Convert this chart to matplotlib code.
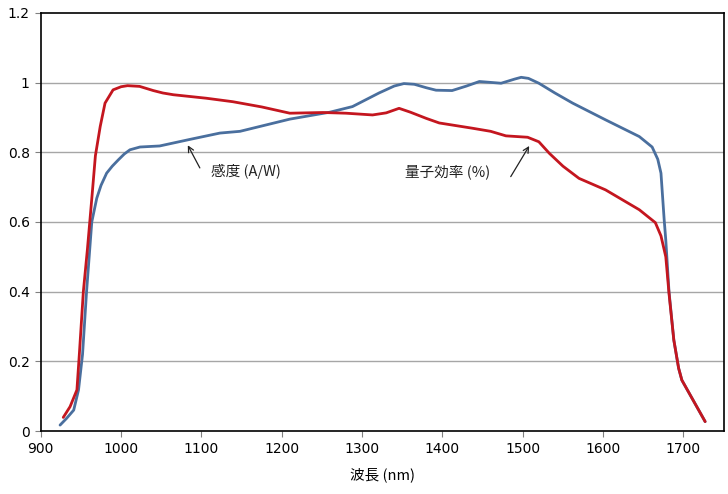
import matplotlib
matplotlib.use("Agg")
import matplotlib.pyplot as plt
from matplotlib.ticker import FixedLocator, FuncFormatter

# Responsivity (A/W) of the photodiode versus wavelength
sens_nm = [924, 932, 941, 947, 952, 957, 963.5, 969.7, 975, 982, 989, 996.5, 1004,
           1011, 1023.5, 1048, 1086, 1123, 1148, 1210, 1260, 1288, 1321, 1340, 1352,
           1365, 1380, 1392, 1412, 1430, 1446, 1473, 1490, 1498, 1507, 1520, 1540,
           1562, 1603, 1645, 1661, 1668, 1672, 1676, 1678, 1682, 1688, 1694, 1698,
           1727]
sens_val = [0.017, 0.036, 0.06, 0.118, 0.22, 0.40, 0.60, 0.668, 0.705, 0.74, 0.76,
            0.778, 0.795, 0.807, 0.815, 0.818, 0.837, 0.855, 0.86, 0.895, 0.915,
            0.931, 0.97, 0.99, 0.997, 0.995, 0.985, 0.978, 0.977, 0.99, 1.003, 0.998,
            1.01, 1.015, 1.012, 0.998, 0.97, 0.941, 0.893, 0.845, 0.815, 0.78, 0.74,
            0.606, 0.548, 0.40, 0.261, 0.18, 0.146, 0.027]

# Quantum efficiency (x100 %) versus wavelength
qe_nm = [928, 936.5, 945, 948, 953, 958, 961, 964, 968, 974, 980, 990, 1000, 1008,
         1023, 1040, 1052, 1065, 1106, 1139, 1175, 1210, 1251, 1280, 1313, 1330,
         1346, 1360, 1380, 1396, 1437, 1460, 1479, 1506, 1520, 1533, 1550, 1570,
         1603, 1645, 1665, 1672, 1678, 1682, 1688, 1694, 1698, 1727]
qe_val = [0.039, 0.07, 0.118, 0.22, 0.40, 0.52, 0.60, 0.68, 0.79, 0.874, 0.941,
          0.979, 0.988, 0.991, 0.989, 0.977, 0.970, 0.965, 0.955, 0.945, 0.93,
          0.912, 0.914, 0.912, 0.907, 0.913, 0.926, 0.915, 0.897, 0.884, 0.869,
          0.86, 0.847, 0.843, 0.83, 0.797, 0.76, 0.725, 0.692, 0.635, 0.598, 0.56,
          0.50, 0.395, 0.261, 0.18, 0.146, 0.027]

x_ticks = [900, 1000, 1100, 1200, 1300, 1400, 1500, 1600, 1700]
y_ticks = [0, 0.2, 0.4, 0.6, 0.8, 1.0, 1.2]

cjk = ["Noto Sans CJK JP", "DejaVu Sans"]

fig = plt.figure(figsize=(7.28, 4.94), dpi=100)
ax = fig.add_axes([0.056, 0.1275, 0.938, 0.8465])

ax.set_xlim(900, 1750)
ax.set_ylim(0, 1.2)

for y in y_ticks[1:-1]:
    ax.axhline(y, color="#a6a6a6", lw=1.0, zorder=1)

ax.plot(sens_nm, sens_val, color="#4a6f9e", lw=2.0, zorder=3,
        solid_joinstyle="round", solid_capstyle="round")
ax.plot(qe_nm, qe_val, color="#c4161f", lw=2.0, zorder=4,
        solid_joinstyle="round", solid_capstyle="round")

ax.xaxis.set_major_locator(FixedLocator(x_ticks))
ax.yaxis.set_major_locator(FixedLocator(y_ticks))
ax.yaxis.set_major_formatter(FuncFormatter(lambda v, p: f"{v:g}"))
ax.tick_params(direction="out", length=4, width=0.8, color="#808080",
               labelsize=10, pad=4)
for s in ax.spines.values():
    s.set_color("black")
    s.set_linewidth(1.2)

arrow = dict(arrowstyle="->", color="#222222", lw=0.9, shrinkA=0, shrinkB=0,
             mutation_scale=10)
ax.annotate("", xy=(1083, 0.82), xytext=(1098, 0.755), arrowprops=arrow)
ax.text(1112, 0.744, "感度 (A/W)", family=cjk, fontsize=10.5,
        ha="left", va="center", color="#222222")
ax.annotate("", xy=(1508, 0.818), xytext=(1485, 0.73), arrowprops=arrow)
ax.text(1460, 0.744, "量子効率 (%)", family=cjk, fontsize=10.5,
        ha="right", va="center", color="#222222")

ax.set_xlabel("波長 (nm)", family=cjk, fontsize=10.5, labelpad=8)

fig.savefig("out.png", dpi=100)
